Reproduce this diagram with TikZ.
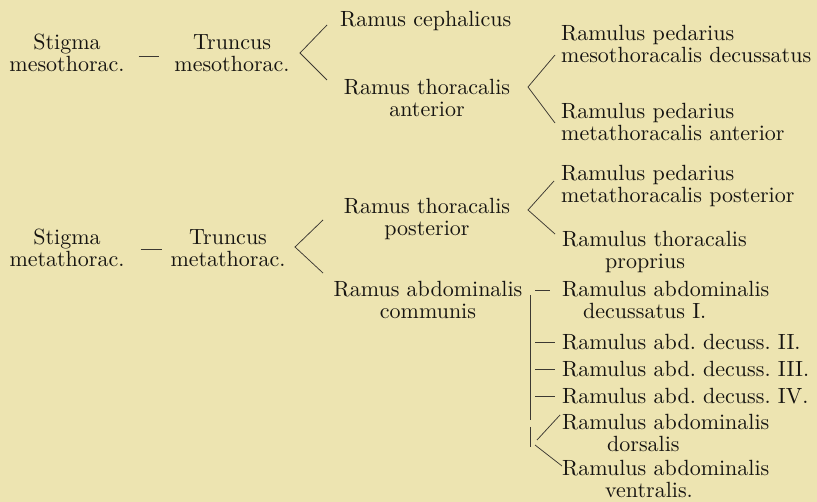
\documentclass[tikz,border=0pt]{standalone}
\usepackage{fontspec}
\setmainfont{lmroman10-regular.otf}
\usetikzlibrary{calc}
\definecolor{paper}{RGB}{237,228,177}
\definecolor{ink}{RGB}{22,20,17}
\definecolor{wire}{RGB}{60,56,50}
\tikzset{
  lbl/.style={inner sep=0pt, text=ink, font=\fontsize{22}{22}\selectfont\frenchspacing},
  lblc/.style={lbl, align=center},
  lbll/.style={lbl, align=left, anchor=west},
  wirestyle/.style={draw=wire, line width=0.75pt}
}
\begin{document}
\begin{tikzpicture}[x=1pt,y=-1pt]
\fill[paper] (0,0) rectangle (817,502);
\useasboundingbox (0,0) rectangle (817,502);

% ---- upper group
\node[lblc] (s1) at (67,53) {Stigma\\mesothorac.};
\node[lblc] (t1) at (232,53) {Truncus\\mesothorac.};
\node[lbll] (rc) at (340,21) {Ramus cephalicus};
\node[lblc] (rta) at (427,98) {Ramus thoracalis\\anterior};
\node[lbll] (rp1) at (561,44) {Ramulus pedarius\\mesothoracalis decussatus};
\node[lbll] (rp2) at (561,122) {Ramulus pedarius\\metathoracalis anterior};

% ---- lower group
\node[lblc] (s2) at (67,248) {Stigma\\metathorac.};
\node[lblc] (t2) at (228,248) {Truncus\\metathorac.};
\node[lblc] (rtp) at (427,219) {Ramus thoracalis\\posterior};
\node[lbll] (rp3) at (561,186) {Ramulus pedarius\\metathoracalis posterior};
\node[lbll] (rtpr) at (562,252) {Ramulus thoracalis\\\hspace*{43pt}proprius};
\node[lblc] (rac) at (428,300) {Ramus abdominalis\\communis};
\node[lbll] (rad1) at (562,300) {Ramulus abdominalis\\\hspace*{21pt}decussatus I.};
\node[lbll] (rad2) at (562,342) {Ramulus abd. decuss. II.};
\node[lbll] (rad3) at (562,369) {Ramulus abd. decuss. III.};
\node[lbll] (rad4) at (562,396) {Ramulus abd. decuss. IV.};
\node[lbll] (rdor) at (562,433) {Ramulus abdominalis\\\hspace*{45pt}dorsalis};
\node[lbll] (rven) at (562,479) {Ramulus abdominalis\\\hspace*{43pt}ventralis.};

% ---- branch points
\coordinate (b1) at (300,53);  \coordinate (b1u) at (327,25);  \coordinate (b1d) at (327,80);
\coordinate (b2) at (528,87);  \coordinate (b2u) at (555,55);  \coordinate (b2d) at (555,123);
\coordinate (b3) at (295,247); \coordinate (b3u) at (323,220); \coordinate (b3d) at (323,273);
\coordinate (b4) at (528,210); \coordinate (b4u) at (554,181); \coordinate (b4d) at (555,234);
\coordinate (va) at (530,295); \coordinate (vb) at (530,420);
\coordinate (vc) at (530,427); \coordinate (vd) at (530,447);
\coordinate (b5a) at (537,440); \coordinate (b5u) at (560,415);
\coordinate (b5b) at (535,445); \coordinate (b5d) at (562,466);

% ---- connectors
\draw[wirestyle] (s1.east) ++(14,3) coordinate (d1a) -- ($(t1.west)+(-15,3)$);
\draw[wirestyle] (s2.east) ++(16,1) coordinate (d2a) -- ($(t2.west)+(-8,1)$);
\draw[wirestyle] (b1u) -- (b1) -- (b1d);
\draw[wirestyle] (b2u) -- (b2) -- (b2d);
\draw[wirestyle] (b3u) -- (b3) -- (b3d);
\draw[wirestyle] (b4u) -- (b4) -- (b4d);
\draw[wirestyle] (va) -- (vb);
\draw[wirestyle] (vc) -- (vd);
\draw[wirestyle] ($(rad1.west)+(-27,-10)$) -- ($(rad1.west)+(-12,-10)$);
\draw[wirestyle] ($(rad2.west)+(-27,0)$) -- ($(rad2.west)+(-7,0)$);
\draw[wirestyle] ($(rad3.west)+(-27,0)$) -- ($(rad3.west)+(-7,0)$);
\draw[wirestyle] ($(rad4.west)+(-27,0)$) -- ($(rad4.west)+(-7,0)$);
\draw[wirestyle] (b5a) -- (b5u);
\draw[wirestyle] (b5b) -- (b5d);
\end{tikzpicture}
\end{document}
